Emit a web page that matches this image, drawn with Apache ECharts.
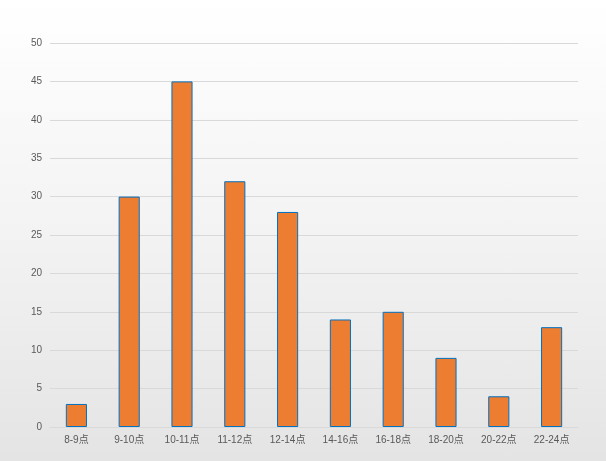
<!DOCTYPE html>
<html><head><meta charset="utf-8">
<script src="https://cdn.jsdelivr.net/npm/echarts@6/dist/echarts.min.js"></script>
<style>html,body{margin:0;padding:0;}#c{width:606px;height:461px;background:linear-gradient(to bottom,#ffffff 0%,#f3f3f3 50%,#e4e4e4 100%);}</style>
</head><body><div id="c"></div>
<script>
const categories = ['8-9点','9-10点','10-11点','11-12点','12-14点','14-16点','16-18点','18-20点','20-22点','22-24点'];
const values = [3, 30, 45, 32, 28, 14, 15, 9, 4, 13];
const chart = echarts.init(document.getElementById('c'), null, {renderer:'canvas'});
chart.setOption({
  backgroundColor: 'transparent',
  animation: false,
  grid: {left: 50, right: 28, top: 43, bottom: 34, containLabel: false},
  xAxis: {
    type: 'category', data: categories,
    axisLine: {lineStyle: {color: '#d9d9d9'}},
    axisTick: {show: false},
    axisLabel: {color: '#595959', fontSize: 10, fontFamily: 'Liberation Sans, Arial, Noto Sans CJK SC', margin: 8}
  },
  yAxis: {
    type: 'value', min: 0, max: 50, interval: 5,
    axisLine: {show: false}, axisTick: {show: false},
    splitLine: {lineStyle: {color: '#d9d9d9'}},
    axisLabel: {color: '#595959', fontSize: 10, fontFamily: 'Liberation Sans, Arial', margin: 8}
  },
  series: [{
    type: 'bar', data: values, barWidth: '40%',
    itemStyle: {color: '#ed7d31', borderColor: '#0070c0', borderWidth: 1}
  }]
});
</script></body></html>
